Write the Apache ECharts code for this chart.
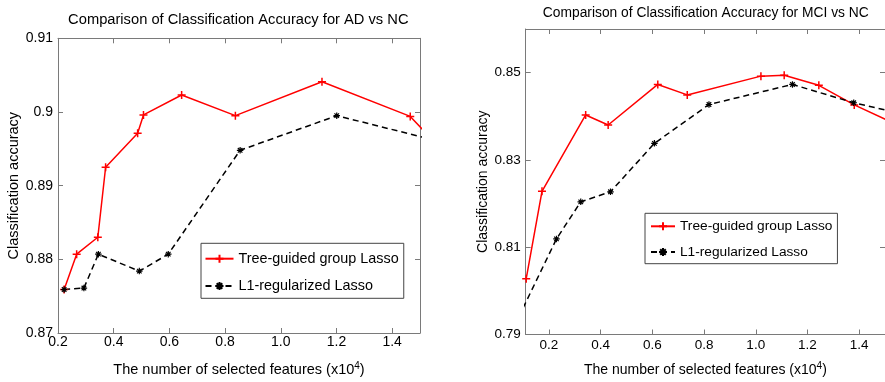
<!DOCTYPE html>
<html>
<head>
<meta charset="utf-8">
<script src="https://cdn.jsdelivr.net/npm/echarts@6/dist/echarts.min.js"></script>
<style>html,body{margin:0;padding:0;background:#fff}#c{width:885px;height:382px}</style>
</head>
<body>
<div id="c"></div>
<script>
// ---- data (x in units of 10^4 features) ----
const adTreeX = [0.222, 0.267, 0.343, 0.371, 0.486, 0.507, 0.644, 0.837, 1.148, 1.465, 1.55];
const adTreeY = [0.8759, 0.8807, 0.8830, 0.8925, 0.8971, 0.8996, 0.9023, 0.8995, 0.9041, 0.8994, 0.8960];
const adL1X = [0.222, 0.293, 0.345, 0.492, 0.596, 0.854, 1.201, 1.55];
const adL1Y = [0.8759, 0.8761, 0.8807, 0.8784, 0.8807, 0.8948, 0.8995, 0.8962];
const mciTreeX = [0.112, 0.173, 0.342, 0.429, 0.621, 0.735, 1.020, 1.110, 1.244, 1.381, 1.52];
const mciTreeY = [0.8028, 0.8228, 0.8403, 0.8380, 0.8473, 0.8449, 0.8492, 0.8494, 0.8471, 0.8426, 0.8388];
const mciL1X = [0.10, 0.229, 0.323, 0.438, 0.608, 0.819, 1.142, 1.379, 1.52];
const mciL1Y = [0.7961, 0.8119, 0.8204, 0.8227, 0.8338, 0.8427, 0.8473, 0.8431, 0.8412];
const xTicks = [0.2, 0.4, 0.6, 0.8, 1.0, 1.2, 1.4];
const adYTicks = [0.87, 0.88, 0.89, 0.90, 0.91];
const mciYTicks = [0.79, 0.81, 0.83, 0.85];
const titles = ['Comparison of Classification Accuracy for AD vs NC', 'Comparison of Classification Accuracy for MCI vs NC'];
const seriesNames = ['Tree-guided group Lasso', 'L1-regularized Lasso'];
const yName = 'Classification accuracy';
const xName = 'The number of selected features (x10{sup|4})';

const FONT = 'Liberation Sans, Arial, Helvetica, sans-serif';
const AX = '#7a7a7a';
const zip = (xs, ys) => xs.map((x, i) => [x, ys[i]]);
const PLUS = 'path://M0,5L10,5M5,0L5,10';
const STAR = 'path://M0,5L10,5M5,0L5,10M1.5,1.5L8.5,8.5M1.5,8.5L8.5,1.5';

function xAxes(gi, min, max, fs, margin, gap) {
  return [{
    type: 'value', gridIndex: gi, position: 'bottom', min: min, max: max,
    axisLine: {lineStyle: {color: AX, width: 1}},
    axisTick: {inside: true, length: 5, customValues: xTicks, lineStyle: {color: AX}},
    axisLabel: {customValues: xTicks, margin: margin, color: '#000', fontSize: fs, fontFamily: FONT,
      formatter: v => v.toFixed(1)},
    splitLine: {show: false},
    name: xName, nameLocation: 'middle', nameGap: gap,
    nameTextStyle: {color: '#000', fontSize: fs + 0.5, fontFamily: FONT,
      rich: {sup: {fontSize: 10, fontFamily: FONT, color: '#000', verticalAlign: 'bottom', padding: [0, 0, 7, 0]}}}
  }, {
    type: 'value', gridIndex: gi, position: 'top', min: min, max: max,
    axisLine: {lineStyle: {color: AX, width: 1}},
    axisTick: {inside: true, length: 5, customValues: xTicks, lineStyle: {color: AX}},
    axisLabel: {show: false}, splitLine: {show: false}
  }];
}
function yAxes(gi, min, max, ticks, fs, gap) {
  return [{
    type: 'value', gridIndex: gi, position: 'left', min: min, max: max,
    axisLine: {show: true, lineStyle: {color: AX, width: 1}},
    axisTick: {show: true, inside: true, length: 5, customValues: ticks, lineStyle: {color: AX}},
    axisLabel: {customValues: ticks, margin: 5, color: '#000', fontSize: fs, fontFamily: FONT,
      formatter: v => String(+v.toFixed(2))},
    splitLine: {show: false},
    name: yName, nameLocation: 'middle', nameGap: gap,
    nameTextStyle: {color: '#000', fontSize: fs + 0.5, fontFamily: FONT}
  }, {
    type: 'value', gridIndex: gi, position: 'right', min: min, max: max,
    axisLine: {show: true, lineStyle: {color: AX, width: 1}},
    axisTick: {show: true, inside: true, length: 5, customValues: ticks, lineStyle: {color: AX}},
    axisLabel: {show: false}, splitLine: {show: false}
  }];
}
function treeSeries(xi, yi, data) {
  return {
    name: seriesNames[0], type: 'line', xAxisIndex: xi, yAxisIndex: yi, data: data,
    symbol: PLUS, symbolSize: 8, showAllSymbol: true, clip: true,
    lineStyle: {color: '#ff0000', width: 1.5},
    itemStyle: {color: '#ff0000', borderColor: '#ff0000', borderWidth: 1.5},
    emphasis: {disabled: true}
  };
}
function l1Series(xi, yi, data) {
  return {
    name: seriesNames[1], type: 'line', xAxisIndex: xi, yAxisIndex: yi, data: data,
    symbol: STAR, symbolSize: 6.5, showAllSymbol: true, clip: true,
    lineStyle: {color: '#000', width: 1.5, type: [6, 4]},
    itemStyle: {color: '#000', borderColor: '#000', borderWidth: 1.2},
    emphasis: {disabled: true}
  };
}

const chart = echarts.init(document.getElementById('c'), null, {renderer: 'canvas'});
chart.setOption({
  animation: false,
  backgroundColor: '#fff',
  textStyle: {fontFamily: FONT},
  title: [
    {text: titles[0], left: 238.3, top: 12.5, textAlign: 'center', padding: 0,
      textStyle: {fontSize: 14.7, fontWeight: 'normal', color: '#000', fontFamily: FONT}},
    {text: titles[1], left: 705.8, top: 6, textAlign: 'center', padding: 0,
      textStyle: {fontSize: 13.8, fontWeight: 'normal', color: '#000', fontFamily: FONT}}
  ],
  grid: [
    {left: 58, top: 38.3, width: 362, height: 296.7},
    {left: 525.7, top: 29, width: 362.6, height: 308.3}
  ],
  xAxis: [].concat(xAxes(0, 0.2, 1.5, 14, 2, 28), xAxes(1, 0.11, 1.5, 13.5, 4, 27)),
  yAxis: [].concat(yAxes(0, 0.87, 0.91, adYTicks, 14, 37), yAxes(1, 0.79, 0.86, mciYTicks, 13.5, 35)),
  legend: [
    {data: seriesNames, orient: 'vertical', left: 201, top: 243.3, itemWidth: 28, itemHeight: 10,
      itemGap: 13.3, padding: [8.4, 5, 5.3, 3.5], borderColor: '#444', borderWidth: 1,
      backgroundColor: '#fff', selectedMode: false,
      textStyle: {fontSize: 14.4, color: '#000', fontFamily: FONT, lineHeight: 10}},
    {data: seriesNames, orient: 'vertical', left: 645, top: 213.3, itemWidth: 24, itemHeight: 10,
      itemGap: 11.7, padding: [6, 5, 4.7, 5], borderColor: '#444', borderWidth: 1,
      backgroundColor: '#fff', selectedMode: false,
      textStyle: {fontSize: 13.7, color: '#000', fontFamily: FONT, lineHeight: 10}}
  ],
  series: [
    treeSeries(0, 0, zip(adTreeX, adTreeY)),
    l1Series(0, 0, zip(adL1X, adL1Y)),
    treeSeries(2, 2, zip(mciTreeX, mciTreeY)),
    l1Series(2, 2, zip(mciL1X, mciL1Y))
  ]
});
</script>
</body>
</html>
